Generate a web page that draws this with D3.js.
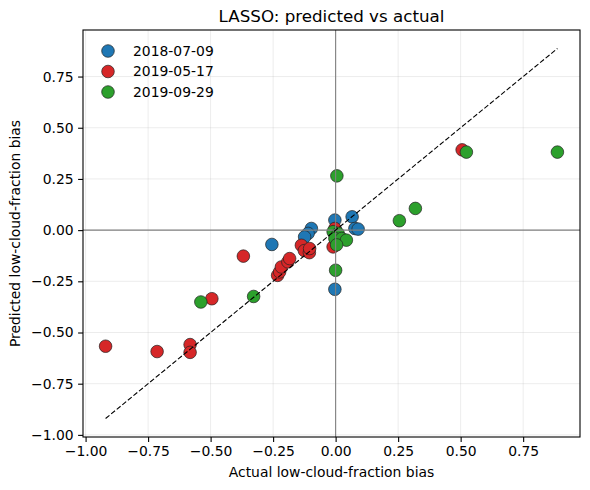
<!DOCTYPE html>
<html>
<head>
<meta charset="utf-8">
<script src="https://cdn.jsdelivr.net/npm/d3@7"></script>
<style>
  body { margin: 0; background: #fff; }
  svg { display: block; font-family: "DejaVu Sans", sans-serif; }
</style>
</head>
<body>
<div id="chart"></div>
<script>
  // values: [actual, predicted]
  var seriesNames = ['2018-07-09', '2019-05-17', '2019-09-29'];
  var seriesColors = ['#1f77b4', '#d62728', '#2ca02c'];

  var blue = [
    [-0.255, -0.070], [-0.097, 0.008], [-0.110, -0.016], [-0.124, -0.033],
    [0.000, 0.000], [-0.003, 0.049], [0.066, 0.065], [0.077, 0.008],
    [0.090, 0.005], [-0.003, -0.289]
  ];
  var red = [
    [-0.920, -0.567], [-0.714, -0.593], [-0.582, -0.559], [-0.582, -0.597],
    [-0.495, -0.335], [-0.369, -0.127], [-0.232, -0.221], [-0.224, -0.204],
    [-0.217, -0.180], [-0.191, -0.155], [-0.184, -0.139], [-0.137, -0.074],
    [-0.125, -0.100], [-0.105, -0.110], [-0.104, -0.090], [0.506, 0.392],
    [-0.010, -0.082], [-0.003, 0.008]
  ];
  var green = [
    [0.005, 0.265], [0.000, -0.196], [-0.328, -0.324], [-0.539, -0.351],
    [0.523, 0.381], [0.887, 0.381], [0.255, 0.046], [0.319, 0.106],
    [-0.010, -0.008], [0.010, -0.016], [-0.003, -0.041], [0.024, -0.041],
    [0.043, -0.049], [0.004, -0.072]
  ];
  var tickValues = [-1.0, -0.75, -0.5, -0.25, 0, 0.25, 0.5, 0.75];
  var yTickValues = [-1.0, -0.75, -0.5, -0.25, 0, 0.25, 0.5, 0.75];

  var series = [blue, red, green];

  var width = 590, height = 490;
  var margin = {top: 30, right: 10, bottom: 53, left: 83};

  var all = [].concat(blue, red, green);
  var lo = d3.min(all, function (d) { return Math.min(d[0], d[1]); });
  var hi = d3.max(all, function (d) { return Math.max(d[0], d[1]); });
  var pad = (hi - lo) * 0.05;

  var x = d3.scaleLinear().domain([lo - pad, hi + pad]).range([margin.left, width - margin.right]);
  var y = d3.scaleLinear().domain([lo - pad, hi + pad]).range([height - margin.bottom, margin.top]);

  var svg = d3.select('#chart').append('svg').attr('width', width).attr('height', height);
  var fmt = d3.format('.2f');
  var minus = function (v) { return fmt(v).replace('-', '\u2212'); };

  // grid
  svg.append('g').selectAll('line').data(tickValues).join('line')
    .attr('x1', function (d) { return x(d); }).attr('x2', function (d) { return x(d); })
    .attr('y1', margin.top).attr('y2', height - margin.bottom)
    .attr('stroke', '#b0b0b0').attr('stroke-opacity', 0.3).attr('stroke-width', 0.8);
  svg.append('g').selectAll('line').data(yTickValues).join('line')
    .attr('y1', function (d) { return y(d); }).attr('y2', function (d) { return y(d); })
    .attr('x1', margin.left).attr('x2', width - margin.right)
    .attr('stroke', '#b0b0b0').attr('stroke-opacity', 0.3).attr('stroke-width', 0.8);

  // points
  series.forEach(function (pts, i) {
    svg.append('g').selectAll('circle').data(pts).join('circle')
      .attr('cx', function (d) { return x(d[0]); })
      .attr('cy', function (d) { return y(d[1]); })
      .attr('r', 6.3)
      .attr('fill', seriesColors[i])
      .attr('stroke', '#222').attr('stroke-width', 0.7);
  });

  // zero lines
  svg.append('line').attr('x1', margin.left).attr('x2', width - margin.right)
    .attr('y1', y(0)).attr('y2', y(0)).attr('stroke', '#808080').attr('stroke-width', 1.1);
  svg.append('line').attr('y1', margin.top).attr('y2', height - margin.bottom)
    .attr('x1', x(0)).attr('x2', x(0)).attr('stroke', '#808080').attr('stroke-width', 1.1);

  // 1:1 line
  svg.append('line')
    .attr('x1', x(lo)).attr('y1', y(lo)).attr('x2', x(hi)).attr('y2', y(hi))
    .attr('stroke', '#000').attr('stroke-width', 1.1).attr('stroke-dasharray', '5,2.2');

  // axes
  var xAxis = svg.append('g').attr('transform', 'translate(0,' + (height - margin.bottom) + ')')
    .call(d3.axisBottom(x).tickValues(tickValues).tickFormat(minus).tickSizeOuter(0).tickSize(4.9).tickPadding(4.5));
  var yAxis = svg.append('g').attr('transform', 'translate(' + margin.left + ',0)')
    .call(d3.axisLeft(y).tickValues(yTickValues).tickFormat(minus).tickSizeOuter(0).tickSize(4.9).tickPadding(4.5));
  [xAxis, yAxis].forEach(function (a) {
    a.select('.domain').remove();
    a.selectAll('line').attr('stroke', '#000').attr('stroke-width', 1.1);
    a.selectAll('text').attr('font-size', 13.9).attr('fill', '#000').attr('font-family', 'DejaVu Sans');
  });

  // frame
  svg.append('rect').attr('x', margin.left).attr('y', margin.top)
    .attr('width', width - margin.left - margin.right).attr('height', height - margin.top - margin.bottom)
    .attr('fill', 'none').attr('stroke', '#000').attr('stroke-width', 1.1);

  // labels
  svg.append('text').attr('x', (margin.left + width - margin.right) / 2).attr('y', 22)
    .attr('text-anchor', 'middle').attr('font-size', 16.7).text('LASSO: predicted vs actual');
  svg.append('text').attr('x', (margin.left + width - margin.right) / 2).attr('y', 477)
    .attr('text-anchor', 'middle').attr('font-size', 13.9).text('Actual low-cloud-fraction bias');
  svg.append('text').attr('transform', 'translate(20,' + ((margin.top + height - margin.bottom) / 2) + ') rotate(-90)')
    .attr('text-anchor', 'middle').attr('font-size', 13.9).text('Predicted low-cloud-fraction bias');

  // legend
  var legend = svg.append('g').selectAll('g').data(seriesNames).join('g')
    .attr('transform', function (d, i) { return 'translate(108,' + (51 + i * 20.5) + ')'; });
  legend.append('circle').attr('r', 6.3)
    .attr('fill', function (d, i) { return seriesColors[i]; })
    .attr('stroke', '#222').attr('stroke-width', 0.7);
  legend.append('text').attr('x', 25).attr('dy', '0.35em').attr('font-size', 13.9)
    .text(function (d) { return d; });
</script>
</body>
</html>
